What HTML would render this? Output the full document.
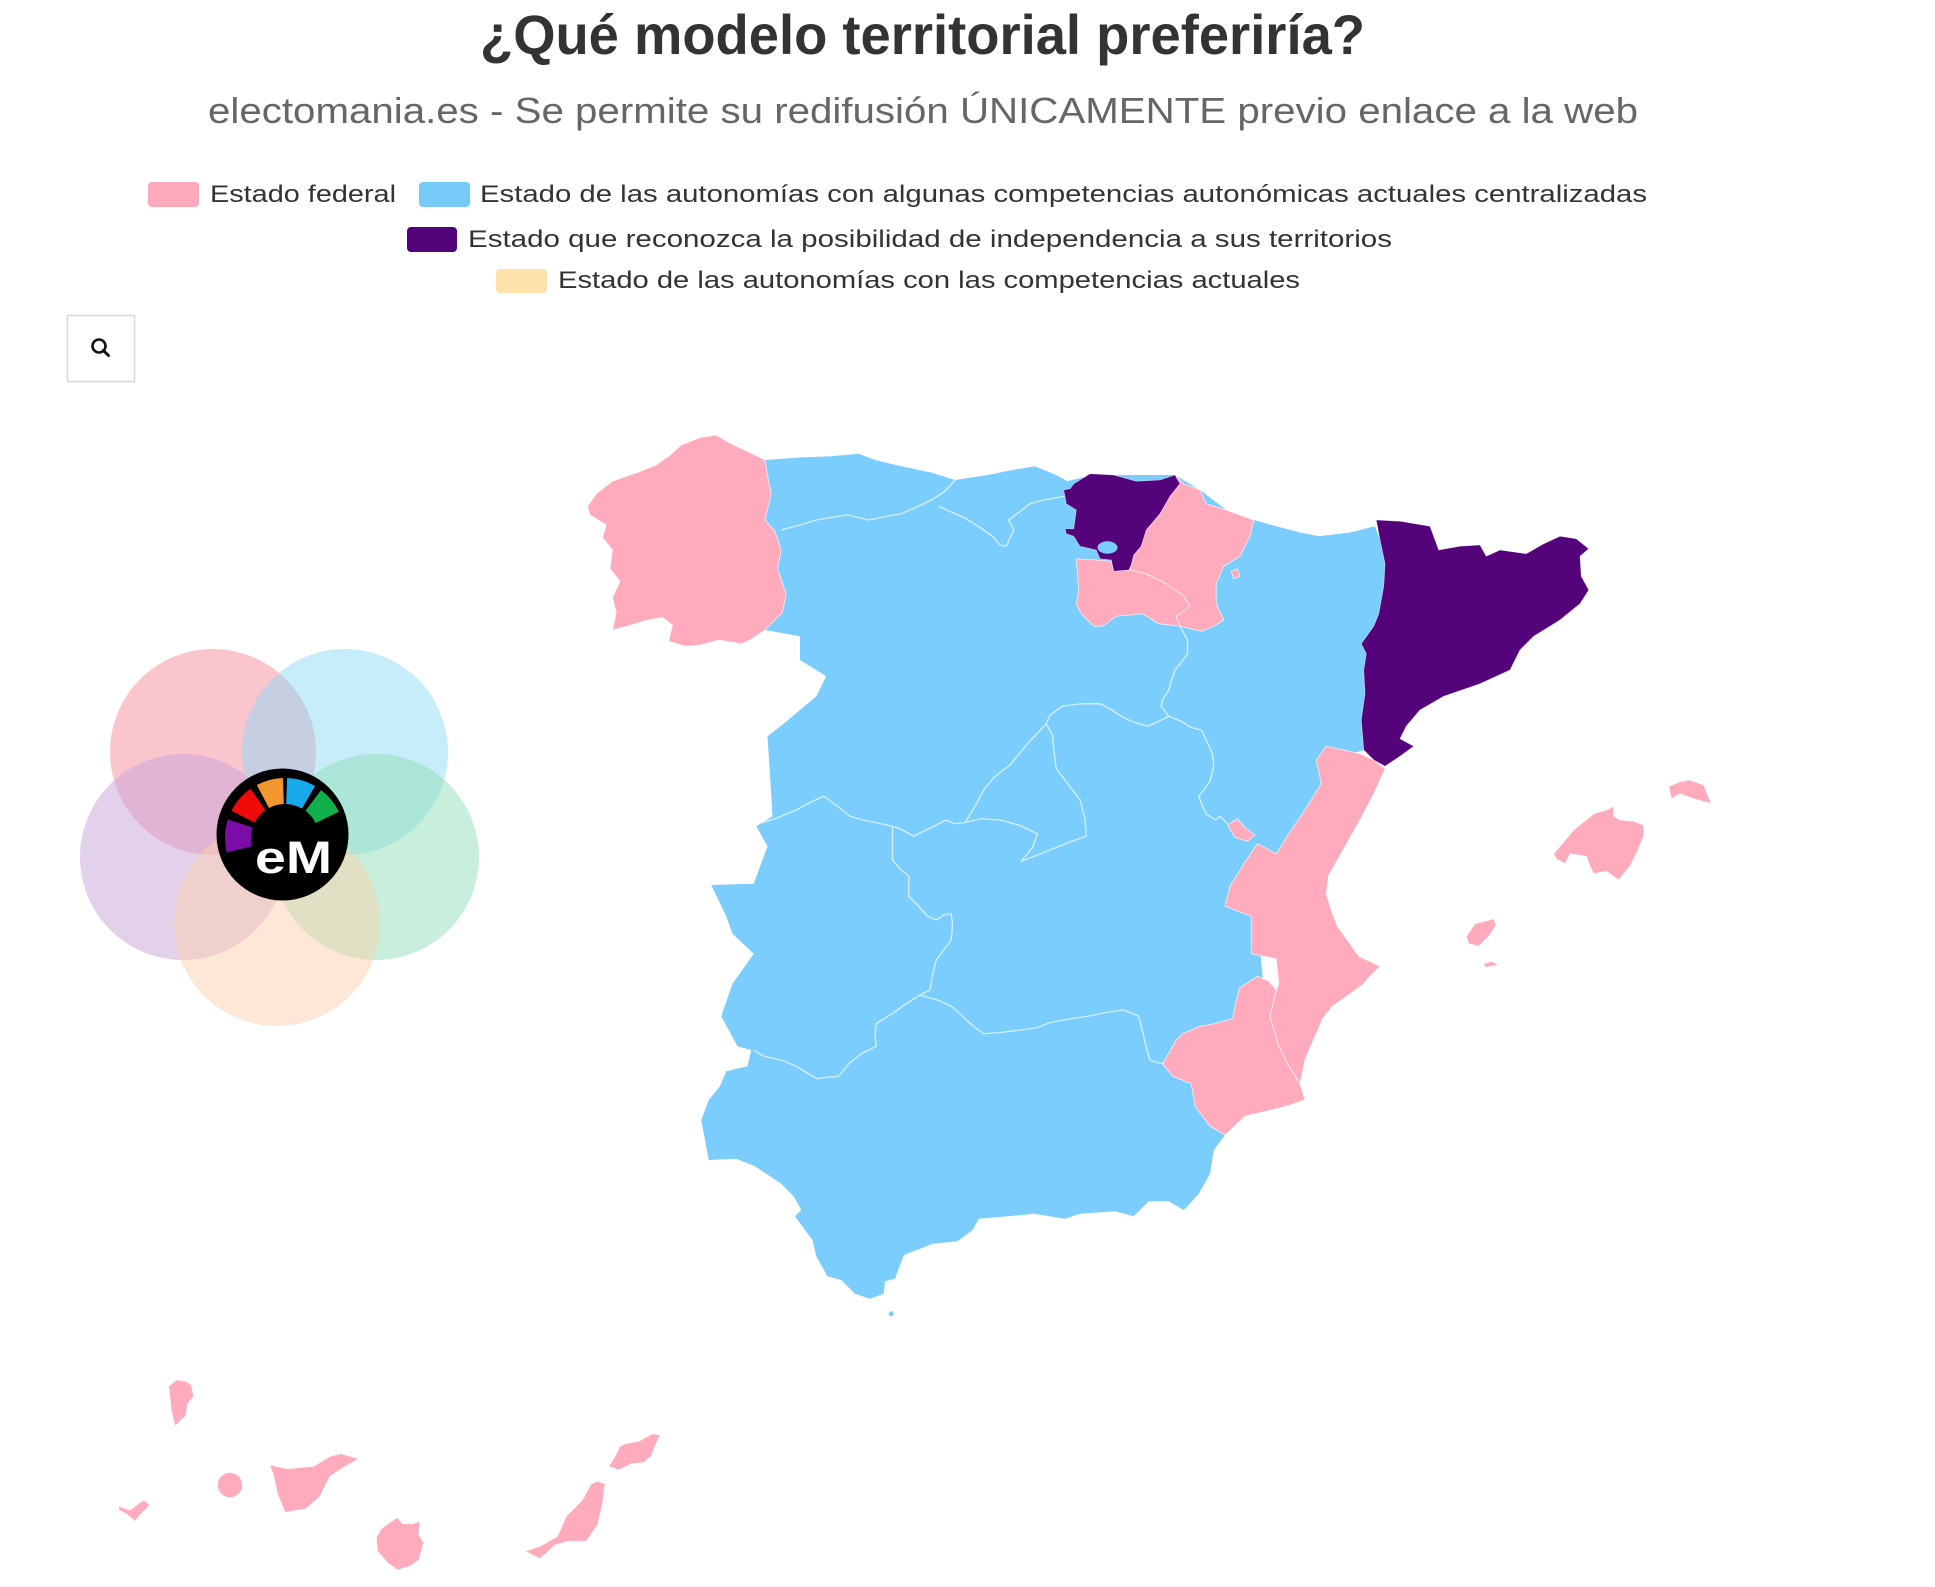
<!DOCTYPE html>
<html><head><meta charset="utf-8"><style>
html,body{margin:0;padding:0;background:#fff;}
svg{display:block;}
</style></head><body>
<svg width="1935" height="1587" viewBox="0 0 1935 1587" xmlns="http://www.w3.org/2000/svg">
<rect width="1935" height="1587" fill="#fff"/>
<text x="480" y="54" font-family="Liberation Sans, sans-serif" font-weight="bold" font-size="56" fill="#333" textLength="885" lengthAdjust="spacingAndGlyphs">¿Qué modelo territorial preferiría?</text>
<text x="208" y="123" font-family="Liberation Sans, sans-serif" font-size="36" fill="#666" textLength="1430" lengthAdjust="spacingAndGlyphs">electomania.es - Se permite su redifusión ÚNICAMENTE previo enlace a la web</text>
<g font-family="Liberation Sans, sans-serif" font-size="24" fill="#333">
<rect x="148" y="182" width="51" height="25" rx="4" fill="#ffa9bc"/>
<text x="210" y="202" textLength="186" lengthAdjust="spacingAndGlyphs">Estado federal</text>
<rect x="419" y="182" width="51" height="25" rx="4" fill="#76cbfb"/>
<text x="480" y="202" textLength="1167" lengthAdjust="spacingAndGlyphs">Estado de las autonomías con algunas competencias autonómicas actuales centralizadas</text>
<rect x="407" y="227" width="50" height="25" rx="4" fill="#53037a"/>
<text x="468" y="247" textLength="924" lengthAdjust="spacingAndGlyphs">Estado que reconozca la posibilidad de independencia a sus territorios</text>
<rect x="496" y="269" width="51" height="24" rx="4" fill="#fde2ab"/>
<text x="558" y="288" textLength="742" lengthAdjust="spacingAndGlyphs">Estado de las autonomías con las competencias actuales</text>
</g>
<rect x="67.5" y="315.5" width="67" height="66" fill="#fff" stroke="#d8d8d8" stroke-width="1.5"/>
<circle cx="99" cy="346" r="6.5" fill="none" stroke="#111" stroke-width="2.6"/>
<line x1="103.5" y1="350.5" x2="108.5" y2="355.5" stroke="#111" stroke-width="3" stroke-linecap="round"/>

<g>
<circle cx="213" cy="752" r="103" fill="#f78c9c" fill-opacity="0.5"/>
<circle cx="345" cy="752" r="103" fill="#8fd9f5" fill-opacity="0.5"/>
<circle cx="183" cy="857" r="103" fill="#c7a3da" fill-opacity="0.5"/>
<circle cx="376" cy="857" r="103" fill="#8fe0b8" fill-opacity="0.5"/>
<circle cx="277" cy="923" r="103" fill="#fbd0ae" fill-opacity="0.5"/>
<circle cx="282.5" cy="834.5" r="66" fill="#000"/>
<g transform="translate(285,838)">
<path d="M-58.2,14.5 A60,60 0 0 1 -57.1,-18.5 L-32.3,-10.5 A34,34 0 0 0 -33.0,8.2 Z" fill="#7b0ca8"/>
<path d="M-53.5,-27.2 A60,60 0 0 1 -34.4,-49.2 L-19.5,-27.9 A34,34 0 0 0 -30.3,-15.4 Z" fill="#f00a0a"/>
<path d="M-28.2,-53.0 A60,60 0 0 1 -2.1,-60.0 L-1.2,-34.0 A34,34 0 0 0 -16.0,-30.0 Z" fill="#f4962f"/>
<path d="M2.1,-60.0 A60,60 0 0 1 30,-52.0 L17,-29.4 A34,34 0 0 0 1.2,-34.0 Z" fill="#18a8ec"/>
<path d="M36.1,-47.9 A60,60 0 0 1 53.9,-26.3 L30.6,-14.9 A34,34 0 0 0 20.5,-27.2 Z" fill="#12b04a"/>
</g>
<text x="255" y="873" font-family="Liberation Sans, sans-serif" font-weight="bold" font-size="45" fill="#fff" textLength="77" lengthAdjust="spacingAndGlyphs">eM</text>
</g>

<g transform="scale(1.25)" stroke-linejoin="round">
<polygon fill="#7acdfc" points="600,370 612,368 640,366 665,365 687,363 700,368 721,373 745,378 764,384 790,380 810,376 828,373 845,380 854,385 870,381 900,380 940,380 960,392 981,408 1003,416 1021,421 1040,426 1055,429 1080,426 1100,421 1104,432 1108,451 1107,469 1103,491 1099,501 1089,515 1093,523 1091,536 1092,555 1089,576 1091,600 1075,605 1060,620 1035,670 1005,715 1008,760 1012,800 985,840 975,895 980,908 971,920 968,939 959,955 947,968 935,961 919,961 907,973 892,969 864,971 852,975 827,971 806,973 783,975 778,984 766,993 746,995 736,999 723,1004 716,1023 708,1025 707,1035 696,1039 684,1035 673,1024 662,1021 653,1005 650,992 644,984 636,973 641,968 635,957 625,947 604,933 589,927 567,928 564,912 561,896 567,880 576,869 581,857 598,853 601,840 590,837 577,813 586,787 603,763 586,747 581,733 569,708 603,707 614,677 605,661 618,653 616,620 614,589 627,579 653,557 661,541 640,528 640,509 612,504 605,450 605,400"/>
<circle cx="713" cy="1051" r="2" fill="#7acdfc"/>
<g fill="none" stroke="#d2efff" stroke-width="1.1">
<polyline points="625,424 640,420 653,416 665,414 678,412 695,416 710,413 721,411 735,405 747,399 757,392 764,384"/>
<polyline points="751,405 762,410 773,415 784,422 794,429 800,436 805,437 811,424 807,416 815,410 824,403 835,400 841,399 852,397"/>
<polyline points="944,501 950,512 950,523 945,530 940,536 937,545 935,552 930,560 929,565 935,573 925,578 918,581 905,577 897,573 888,567 880,563 865,563 850,565 840,572 837,579"/>
<polyline points="837,579 822,595 808,612 795,622 787,632 780,645 772,658 785,655 800,656 815,660 830,667 826,678 817,689 830,684 845,678 860,672 869,669 868,655 864,640 855,628 845,615 843,600 842,588 837,579"/>
<polyline points="772,658 764,659 757,656 745,662 731,669 720,663 714,661 700,658 690,656 680,653 670,645 659,637 648,642 637,648 620,655 607,659"/>
<polyline points="714,661 714,675 714,688 720,695 727,701 727,710 727,717 735,725 742,733 749,736 755,732 761,731 762,740 761,752 755,760 749,768 746,780 744,792 736,796"/>
<polyline points="736,796 725,803 715,810 701,819 700,828 701,837 689,843 680,850 671,861 660,862 654,863 645,858 637,853 625,848 611,845 603,840"/>
<polyline points="736,796 750,800 761,805 770,813 780,822 787,827 800,826 817,824 830,822 840,818 851,816 870,813 885,810 899,808 911,813 914,825 917,838 920,848 925,850 931,851"/>
<polyline points="935,573 945,577 953,582 961,584 965,592 970,603 971,613 968,625 963,632 959,637 962,645 965,651 972,656 976,653 982,659"/>
</g>
<g fill="#ffabbd" stroke="#fff" stroke-width="0.6" stroke-opacity="0.8">
<polygon points="477,395 490,385 510,378 525,372 535,365 545,356 560,350 573,348 585,355 600,362 612,368 614,380 617,395 612,416 620,425 625,440 622,455 629,475 626,490 612,504 600,512 593,515 575,512 560,516 548,517 535,513 538,500 530,494 518,496 505,500 490,504 493,490 490,478 496,465 488,455 490,440 482,430 485,420 472,412 470,405"/>
<polygon points="940,380 947,387 960,392 965,403 981,408 1003,416 1000,429 992,445 979,453 973,467 973,483 979,496 971,501 961,505 944,501 941,493 952,485 947,477 933,467 917,459 904,456 907,444 913,437 917,424 928,411 936,397 944,387"/>
<polygon points="861,447 877,448 889,449 891,457 904,456 917,459 933,467 947,477 952,485 941,493 944,501 927,499 914,491 893,493 882,501 875,501 865,491 861,483 863,472"/>
<polygon points="985,457 990,455 992,461 987,463"/>
<polygon points="1061,597 1075,600 1088,603 1099,608 1108,615 1099,635 1088,656 1080,670 1070,688 1063,700 1061,715 1065,728 1070,741 1080,755 1087,765 1104,773 1095,782 1091,787 1080,795 1066,805 1058,815 1053,827 1048,838 1044,848 1042,858 1040,867 1030,851 1023,837 1016,813 1021,792 1023,787 1021,767 1001,763 1001,733 980,725 984,709 997,688 1006,675 1021,683 1031,667 1044,648 1057,627 1053,608"/>
<polygon points="982,660 990,655 996,662 1004,668 998,673 988,670"/>
<polygon points="1006,781 1015,785 1021,792 1016,813 1023,837 1030,851 1040,867 1044,880 1029,885 1017,888 996,893 980,908 968,901 956,885 953,867 938,861 930,851 941,832 946,827 960,821 971,819 986,815 989,800 992,790"/>
<polygon points="1335,629 1345,625 1352,624 1363,628 1369,643 1355,639 1344,635 1337,639"/>
<polygon points="1243,683 1259,664 1275,651 1285,648 1291,645 1291,653 1296,656 1307,657 1315,660 1315,669 1309,683 1304,693 1295,704 1285,697 1275,699 1272,693 1269,685 1256,683 1252,691 1245,687"/>
<polygon points="1173,749 1180,739 1195,735 1197,740 1191,749 1183,757 1175,755"/>
<polygon points="1187,771 1193,769 1199,772 1188,774"/>
<polygon points="135,1109 141,1104 149,1105 153,1108 155,1117 150,1123 149,1132 140,1141 137,1128"/>
<polygon points="95,1205 104,1208 115,1200 120,1204 112,1212 108,1217 101,1211 95,1208"/>
<ellipse cx="184" cy="1188" rx="10" ry="10"/>
<polygon points="216,1172 230,1175 251,1173 264,1165 273,1163 287,1167 282,1170 273,1175 264,1181 256,1197 245,1207 228,1210 222,1195 219,1181"/>
<polygon points="312,1218 318,1214 322,1219 330,1219 336,1217 335,1228 339,1234 335,1248 328,1253 318,1256 310,1250 302,1241 301,1230 305,1223"/>
<polygon points="420,1241 432,1247 444,1236 455,1233 469,1233 478,1220 482,1203 484,1187 478,1185 473,1187 466,1200 453,1213 446,1229 432,1237"/>
<polygon points="487,1173 495,1176 505,1171 515,1170 521,1165 524,1157 528,1148 522,1147 511,1153 500,1155 496,1157 492,1165"/>
</g>
<g fill="#54037b" stroke="#fff" stroke-width="0.5" stroke-opacity="0.6">
<polygon points="859,387 872,379 891,380 909,385 928,384 940,380 944,387 936,397 928,411 917,424 913,437 907,444 905,452 903,456 891,457 889,448 880,447 877,440 864,437 859,429 853,427 852,423 859,423 861,408 853,403 851,392 856,391"/>
<polygon points="1101,416 1120,417 1144,421 1151,440 1168,437 1184,436 1189,445 1200,440 1221,443 1235,435 1248,429 1261,431 1271,439 1264,445 1265,461 1271,472 1264,483 1248,496 1227,509 1216,520 1208,536 1184,547 1155,557 1136,568 1125,581 1120,591 1131,597 1120,605 1108,613 1099,608 1091,600 1089,576 1092,555 1091,536 1093,523 1089,515 1099,501 1103,491 1107,469 1108,451 1104,432"/>
</g>
<ellipse cx="886" cy="438" rx="8" ry="5" fill="#7acdfc"/>
</g>
</svg>
</body></html>
